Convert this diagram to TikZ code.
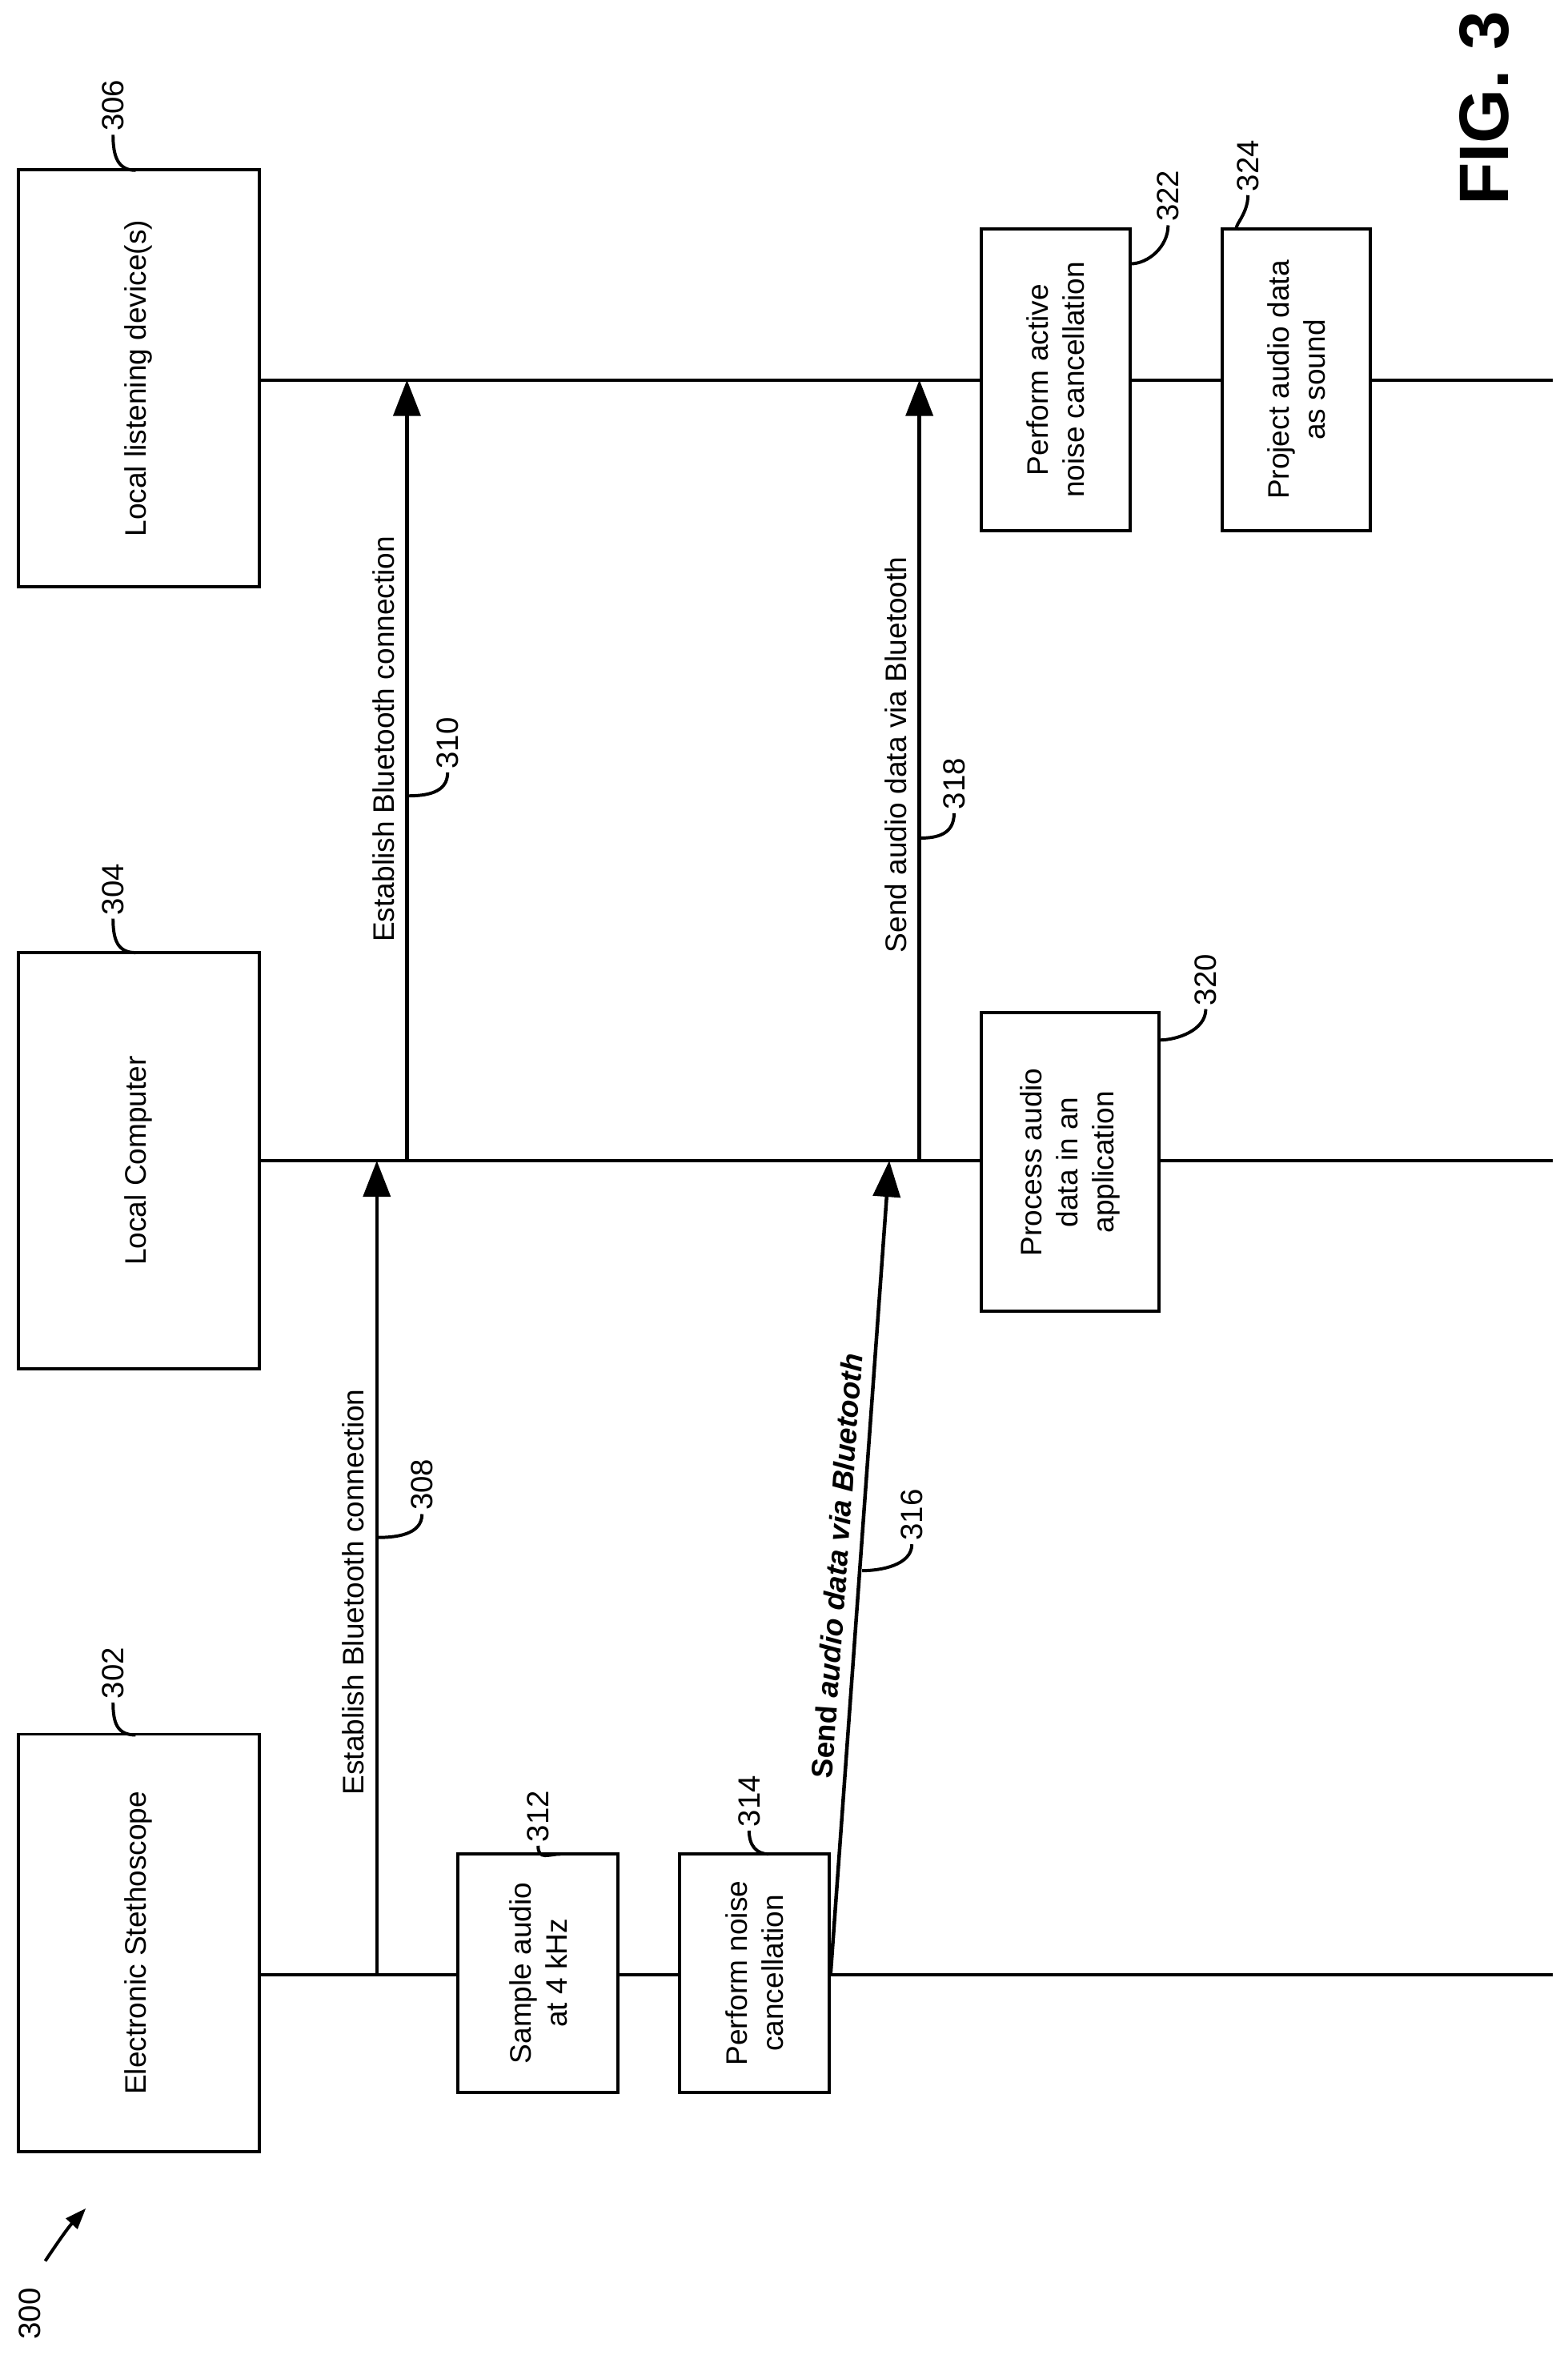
\documentclass[tikz,border=0pt]{standalone}
\usepackage{fontspec}
\setmainfont{Liberation Sans}
\usetikzlibrary{arrows.meta,positioning}

\begin{document}
\begin{tikzpicture}[x=0.025cm,y=-0.025cm,line width=1.5pt,
	box/.style={draw,rotate=90,align=center,inner sep=2pt,font=\fontsize{14}{17}\selectfont},
	refnum/.style={rotate=90,inner sep=1pt,font=\fontsize{14.5}{17}\selectfont},
	msg/.style={-{Triangle[length=0.6cm,width=0.45cm]},line width=1.7pt},
	msglabel/.style={midway,sloped,above,inner sep=5pt,font=\fontsize{14}{17}\selectfont}]
	\useasboundingbox (0,0) rectangle (1040,1565);
	% actors
	\node[box,minimum width=277*0.025cm,minimum height=160*0.025cm] (dev) at (92,251) {Local listening device(s)};
	\node[box,minimum width=276*0.025cm,minimum height=160*0.025cm] (pc) at (92,770) {Local Computer};
	\node[box,minimum width=277*0.025cm,minimum height=160*0.025cm] (steth) at (92,1289) {Electronic Stethoscope};
	% lifelines
	\coordinate (devend) at (1030,252);
	\coordinate (pcend) at (1030,770);
	\coordinate (stethend) at (1030,1310);
	\draw (dev.south |- devend) -- (devend);
	\draw (pc.south |- pcend) -- (pcend);
	\draw (steth.south |- stethend) -- (stethend);
	% steps
	\node[box,fill=white,minimum width=158*0.025cm,minimum height=106*0.025cm] (sample) at (357,1309) {Sample audio\\at 4 kHz};
	\node[box,fill=white,minimum width=158*0.025cm,minimum height=99*0.025cm] (nc) at (500.5,1309) {Perform noise\\cancellation};
	\node[box,fill=white,minimum width=198*0.025cm,minimum height=118*0.025cm] (proc) at (710,771) {Process audio\\data in an\\application};
	\node[box,fill=white,minimum width=200*0.025cm,minimum height=99*0.025cm] (anc) at (700.5,252) {Perform active\\noise cancellation};
	\node[box,fill=white,minimum width=200*0.025cm,minimum height=98*0.025cm] (proj) at (860,252) {Project audio data\\as sound};
	% messages
	\coordinate (a308) at (250,1310);
	\coordinate (b308) at (250,770);
	\coordinate (a310) at (270,770);
	\coordinate (b310) at (270,252);
	\coordinate (b316) at (590,770);
	\coordinate (a318) at (610,770);
	\coordinate (b318) at (610,252);
	\draw[msg] (a308) -- node[msglabel,pos=0.47] {Establish Bluetooth connection} (b308);
	\draw[msg] (a310) -- node[msglabel,pos=0.54] {Establish Bluetooth connection} (b310);
	\draw[msg] (nc.south |- stethend) -- node[msglabel,pos=0.5] {\bfseries Send \itshape audio data via Bluetooth} (b316);
	\draw[msg] (a318) -- node[msglabel,pos=0.52] {Send audio data via Bluetooth} (b318);
	% reference numbers
	\node[refnum] (n306) at (75,70) {306};
	\node[refnum] (n304) at (75,590) {304};
	\node[refnum] (n302) at (75,1110) {302};
	\node[refnum] (n308) at (280,985) {308};
	\node[refnum] (n310) at (297,493) {310};
	\node[refnum] (n312) at (357,1205) {312};
	\node[refnum] (n314) at (497,1195) {314};
	\node[refnum] (n316) at (605,1005) {316};
	\node[refnum] (n318) at (633,520) {318};
	\node[refnum] (n320) at (800,650) {320};
	\node[refnum] (n322) at (775,130) {322};
	\node[refnum] (n324) at (828,110) {324};
	\draw (n306.west) .. controls +(0,14) and +(-12,0) .. (90,113);
	\draw (n304.west) .. controls +(0,14) and +(-12,0) .. (90,632);
	\draw (n302.west) .. controls +(0,14) and +(-12,0) .. (90,1151);
	\draw (n308.west) .. controls +(0,14) and +(12,0) .. (250,1020);
	\draw (n310.west) .. controls +(0,14) and +(12,0) .. (270,528);
	\draw (n312.west) .. controls +(0,10) and +(-8,0) .. (372,1230);
	\draw (n314.west) .. controls +(0,10) and +(-8,0) .. (510,1230);
	\draw (n316.west) .. controls +(0,14) and +(12,0) .. (572,1042);
	\draw (n318.west) .. controls +(0,14) and +(12,0) .. (610,556);
	\draw (n320.west) .. controls +(0,14) and +(12,0) .. (769,690);
	\draw (n322.west) .. controls +(0,14) and +(12,0) .. (750,175);
	\draw (n324.west) .. controls +(0,14) and +(-6,0) .. (822,152);
	% figure labels
	\node[rotate=90,font=\fontsize{33}{36}\selectfont\bfseries] (fig) at (985,72) {FIG. 3};
	\node[refnum] (n300) at (20,1535) {300};
	\draw[-{Triangle[length=0.35cm,width=0.25cm]}] (30,1500) .. controls (38,1488) and (45,1478) .. (57,1465);
\end{tikzpicture}
\end{document}
